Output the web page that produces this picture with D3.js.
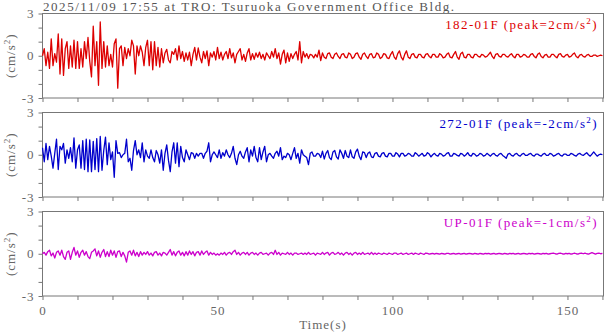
<!DOCTYPE html>
<html>
<head>
<meta charset="utf-8">
<script src="https://cdn.jsdelivr.net/npm/d3@7"></script>
<style>
body { margin: 0; background: #fff; }
text { font-family: "Liberation Serif", "Times New Roman", serif; }
</style>
</head>
<body>
<svg width="605" height="334"></svg>
<script>
const title = "2025/11/09 17:55 at TRO: Tsuruoka Government Office Bldg.";
const channels = ["182-01F", "272-01F", "UP-01F"];
const peaks = ["2", "-2", "-1"];
const xTicks = [0, 50, 100, 150];
const yTicks = [-3, 0, 3];
const dt = 0.5; // seconds between samples

// acceleration (cm/s2), one value per 0.5 s
const acc182 = [
  0.0, 0.5, -0.7, 0.25, -0.9, 1.2, -0.7, 0.15, -0.45, 1.55,
  -1.3, 1.2, -1.4, 0.5, 1.0, -0.9, 0.7, -0.8, 1.1, -0.9,
  1.0, -0.9, 0.5, -0.8, 1.0, -0.2, 1.3, -0.4, -1.5, 2.1,
  -0.7, 1.0, -2.1, 2.4, -0.9, 1.0,
  -0.8, 0.7, -0.7, 0.1, -0.8, 0.85, 1.2, -2.3,
  0.5, 0.7, -0.7, 0.6, -0.2, 0.5, 0.0, 1.1, 0.7, -1.3,
  0.7, 0.0, 0.7, 0.25, -0.7, 0.6, 1.1, -0.7, 1.0, -1.0,
  1.0, -0.7, 0.6, -0.8, 0.5,
  -0.5, 0.2, 0.45, -0.3, -0.5, 0.3, 0.1, 0.5, -0.3, 0.7, -0.2,
  0.3, -0.4, 0.2, -0.3, 0.25, -0.7, 0.1, 0.6, -0.3, 0.55,
  -0.1, -0.5, 0.3, -0.2, 0.35, -0.7, 0.2, -0.1, 0.3, -0.3,
  0.6, -0.2, 0.25, -0.3, 0.1, 0.3, -0.2, 0.5, -0.15, 0.2,
  -0.5, 0.1, 0.3, 0.5, -0.3, 0.1, -0.4, 0.2, 0.5, -0.3,
  0.15, -0.25, 0.2, -0.1, 0.25, -0.2, 0.1, -0.3, 0.2, 0.0,
  -0.2, 0.3, -0.1, 0.5, -0.2, 0.2, -0.6, 0.1, 0.4, -0.5,
  0.2, -0.4, 0.15, -0.2, 0.1, 0.3, -0.3, 1.0, -0.5, 0.3,
  -0.1, 0.15, -0.2, 0.1, 0.05, -0.15, 0.1, -0.1, 0.4, -0.35,
  0.2, -0.1, -0.2, 0.15, 0.2, -0.1, -0.2, 0.1, 0.2, -0.05,
  -0.2, 0.1, 0.15, -0.1, -0.15, 0.2, 0.1, -0.2, -0.1, 0.15,
  0.2, -0.1, -0.25, 0.1, 0.2, -0.05, -0.2, 0.1, 0.15, -0.15,
  -0.1, 0.2, 0.1, -0.2, -0.1, 0.15, 0.1, -0.15, -0.2, 0.1,
  0.3, -0.1, -0.25, 0.15, 0.35, -0.1, -0.3, 0.1, 0.35, -0.1,
  -0.2, 0.1, 0.15, -0.1, -0.15, 0.1, 0.1, -0.1, -0.15, 0.1,
  0.15, -0.05, -0.15, 0.1, 0.1, -0.1, -0.1, 0.15, 0.05, -0.15,
  -0.1, 0.1, 0.2, -0.1, -0.15, 0.1, 0.3, -0.1, -0.25, 0.15,
  0.25, -0.1, -0.15, 0.1, 0.1, -0.1, -0.15, 0.1, 0.1, -0.05,
  -0.1, 0.1, 0.05, -0.1, -0.05, 0.1, 0.25, -0.05, -0.2, 0.1,
  0.15, -0.05, -0.1, 0.1, 0.1, -0.05, -0.1, 0.05, 0.15, -0.05,
  -0.15, 0.1, 0.1, -0.1, -0.05, 0.1, 0.05, -0.1, -0.1, 0.1,
  0.15, -0.05, -0.15, 0.1, 0.2, -0.05, -0.15, 0.05, 0.1, -0.1,
  -0.1, 0.1, 0.1, -0.05, -0.15, 0.1, 0.15, -0.05, -0.1, 0.05,
  0.1, -0.1, -0.05, 0.1, 0.2, -0.05, -0.15, 0.05, 0.1, -0.05,
  -0.1, 0.05, 0.1, -0.05, -0.05, 0.05, 0.05, -0.05, 0.0, 0.05, 0.0
];

const acc272 = [
  0.5, -0.5, 0.8, -0.35, 0.6, -0.1, -0.95, 0.1, 1.1, -1.05,
  0.6, 0.35, 0.8, -0.6, 0.35, -0.25, 0.5, -0.5, 1.2, -0.95,
  0.35, 0.7, -0.95, 1.0, -1.05, 1.1, -1.2, 1.05, -1.2, 0.95,
  -1.05, 1.15, -1.2, 1.3, -1.1, 0.3, 1.25, -0.7, 0.85, -0.35,
  0.2, -1.6, 1.0, 0.1, 0.15, -0.2, 0.0, 0.1, 1.1, -0.5,
  -0.25, -1.1, 0.3, 1.0, 0.0, 0.35, -0.2, 0.85, -0.5, 0.35,
  -0.1, -0.25, 0.35, -0.2, -0.5, 0.3, 0.0, -0.6, 0.35, -1.1,
  0.1, 0.7, -0.4, -1.2, 0.2, 0.85, -0.6, 0.85, -0.85, 0.6,
  -0.2, -0.5, 0.35, 0.0, -0.35, 0.15, 0.1, -0.25, 0.1, -0.1,
  0.1, 0.1, -0.25, 0.1, 0.25, 0.85, -0.5, 0.0, 0.2, 0.0,
  -0.2, 0.35, -0.25, 0.15, -0.1, 0.35, 0.0, -0.2, 0.1, 0.6,
  -0.25, -0.7, 0.0, 0.25, -0.1, -0.25, 0.2, 0.5, -0.5, 0.35,
  -0.1, 0.6, -0.2, -0.5, 0.5, -0.35, 0.2, 0.6, -0.5, 0.0,
  0.1, -0.1, -0.25, 0.1, 0.25, -0.1, 0.5, -0.35, -0.1, -0.2,
  0.1, 0.0, -0.35, 0.1, 0.5, -0.25, 0.1, -0.6, 0.35, 0.0,
  -0.1, -0.2, -0.7, 0.1, 0.2, -0.1, -0.1, 0.1, 0.05, -0.2,
  0.25, -0.3, 0.1, 0.3, -0.2, -0.35, 0.2, 0.3, -0.15,
  -0.3, 0.35, 0.1, -0.25, 0.3, -0.1, -0.2, 0.35, -0.15, -0.25,
  0.2, 0.4, -0.1, -0.35, 0.2, 0.15, -0.2, 0.1, 0.2, -0.15,
  -0.2, 0.1, 0.15, -0.1, -0.15, 0.1, 0.15, -0.1, -0.15, 0.1,
  0.1, -0.1, -0.1, 0.15, 0.05, -0.15, 0.1, 0.1, -0.1, -0.05,
  0.1, 0.05, -0.1, -0.1, 0.15, 0.05, -0.1, 0.0, 0.1, -0.1,
  -0.05, 0.15, 0.05, -0.15, 0.0, 0.1, -0.05, -0.1, 0.1, 0.05,
  -0.1, -0.05, 0.1, 0.15, -0.1, -0.1, 0.1, 0.05, -0.05, -0.1,
  0.1, 0.05, -0.1, 0.0, 0.15, -0.05, -0.1, 0.1, 0.05, -0.1,
  -0.05, 0.1, 0.05, -0.1, -0.05, 0.1, 0.0, -0.1, 0.05, 0.1,
  -0.05, -0.1, 0.05, 0.1, -0.05, -0.15, -0.25, 0.05, 0.1, -0.05,
  -0.1, 0.05, 0.1, -0.05, -0.1, 0.05, 0.1, -0.05, -0.05, 0.05,
  0.1, -0.05, -0.1, 0.05, 0.05, -0.05, -0.1, 0.05, 0.1, -0.05,
  -0.05, 0.1, 0.05, -0.1, -0.05, 0.05, 0.1, -0.05, -0.1, 0.05,
  0.05, -0.05, -0.05, 0.1, 0.05, -0.05, -0.1, 0.05, 0.1, 0.0,
  -0.05, 0.05, 0.15, 0.0, -0.1, 0.05, 0.2, 0.05, -0.1, 0.0, 0.05, 0.0
];

const accUP = [
  0.0, 0.1, -0.1, 0.15, 0.25, -0.15, 0.05, -0.3, 0.1, 0.2,
  -0.1, 0.25, -0.2, -0.4, 0.1, 0.2, -0.4, 0.1, 0.45, -0.1,
  0.2, -0.25, 0.1, 0.25, -0.1, 0.15, -0.2, -0.35, 0.1, 0.2,
  0.35, -0.15, 0.2, -0.25, 0.1, 0.3, -0.2, 0.15, -0.2, 0.25,
  -0.1, 0.2, -0.25, 0.15, 0.2, -0.2, 0.1, -0.15, -0.6, 0.1,
  0.2, -0.1, 0.25, -0.15, 0.1, -0.2, 0.15, -0.1, 0.1, -0.05,
  0.15, -0.1, 0.05, -0.15, 0.1, 0.15, -0.1, 0.05, -0.15, 0.1,
  0.05, -0.1, 0.1, 0.3, -0.1, 0.15, -0.15, 0.1, 0.2, -0.1,
  0.1, -0.15, 0.15, -0.1, 0.2, -0.05, 0.15, -0.15, 0.1, 0.15,
  -0.1, 0.2, -0.05, 0.1, 0.2, -0.1, 0.1, -0.05, 0.05, -0.1,
  0.0, -0.1, 0.05, -0.05, 0.1, -0.1, 0.05, 0.1, -0.05, 0.15,
  0.25, -0.05, 0.1, -0.1, 0.05, 0.1, -0.05, 0.1, -0.1, 0.05,
  0.1, -0.05, 0.05, -0.1, 0.05, 0.1, -0.05, 0.0, 0.05, -0.1,
  0.05, 0.1, -0.05, 0.25, -0.05, 0.1, -0.1, 0.05, 0.0, -0.05,
  0.1, -0.05, 0.05, -0.1, 0.05, 0.05, -0.05, 0.0, 0.05, -0.05,
  0.05, -0.05, 0.1, -0.05, 0.0, 0.05, -0.1, 0.05, 0.0, -0.05,
  0.1, -0.05, 0.05, 0.1, -0.1, 0.05, 0.1, -0.05, 0.0, 0.1,
  -0.05, 0.05, -0.1, 0.05, 0.1, -0.05, 0.05, -0.1, 0.05, 0.1,
  -0.05, 0.05, -0.05, 0.1, -0.05, 0.0, 0.05, -0.05, 0.1, -0.05,
  0.05, -0.05, 0.05, 0.0, -0.05, 0.05, 0.0, -0.05, 0.05, 0.0,
  -0.05, 0.05, 0.05, -0.05, 0.0, 0.05, -0.05, 0.0, 0.05, -0.05,
  0.0, 0.05, -0.05, 0.05, 0.0, -0.05, 0.05, 0.0, -0.05, 0.05,
  0.03, -0.03, 0.0, 0.03, -0.03, 0.03, 0.0, -0.03, 0.03, 0.0,
  -0.03, 0.03, 0.03, -0.03, 0.0, 0.03, -0.03, 0.0, 0.03, -0.03,
  0.0, 0.03, -0.03, 0.0, 0.03, 0.0, -0.03, 0.03, 0.0, -0.03,
  0.03, 0.0, -0.03, 0.03, 0.0, 0.03, -0.03, 0.0, 0.03, -0.03,
  0.0, 0.03, 0.0, -0.03, 0.03, 0.0, -0.03, 0.03, 0.0, 0.03,
  -0.03, 0.0, 0.03, -0.03, 0.0, 0.03, 0.0, -0.03, 0.03, 0.0,
  0.03, -0.03, 0.0, 0.03, 0.0, -0.03, 0.03, 0.0, 0.03, -0.03,
  0.0, 0.03, 0.05, 0.0, -0.03, 0.03, 0.05, 0.0, -0.03, 0.03,
  0.0, 0.03, -0.03, 0.0, 0.05, 0.0, -0.03, 0.03, 0.05, 0.0,
  0.05, 0.0, -0.03, 0.03, 0.08, 0.03, -0.03, 0.03, 0.05, 0.0, 0.03
];

const series = [acc182, acc272, accUP];
const colors = ["#dd0000", "#0000cc", "#cc00cc"];

const svg = d3.select("svg");
const left = 42.5, right = 603.5;
const tops = [13.5, 112.5, 211.5];
const ph = 84.5;
const grey = "#777";

const x = d3.scaleLinear().domain([0, 160.3]).range([left, right]);

svg.append("text")
    .attr("x", 43)
    .attr("y", 11)
    .attr("fill", "#555")
    .attr("font-size", 13)
    .attr("letter-spacing", 1.55)
    .text(title);

series.forEach((vals, k) => {
    const top = tops[k];
    const y = d3.scaleLinear().domain([-3, 3]).range([top + ph, top]);
    const g = svg.append("g");

    const yAxis = g.append("g")
        .attr("transform", `translate(${left},0)`)
        .call(d3.axisLeft(y)
            .tickValues(d3.range(-3, 4))
            .tickSize(4)
            .tickPadding(4)
            .tickFormat(d => yTicks.includes(d) ? d : ""));

    const xAxis = g.append("g")
        .attr("transform", `translate(0,${top + ph})`)
        .call(d3.axisBottom(x)
            .tickValues(d3.range(0, 161, 10))
            .tickSize(4)
            .tickPadding(6)
            .tickFormat(d => (k === 2 && xTicks.includes(d)) ? d : ""));

    [yAxis, xAxis].forEach(a => {
        a.select(".domain").remove();
        a.selectAll("line").attr("stroke", grey);
        a.selectAll("text")
            .attr("fill", "#666")
            .attr("font-size", 13)
            .attr("font-family", "Liberation Serif, serif")
            .attr("letter-spacing", 1);
    });

    g.append("rect")
        .attr("x", left)
        .attr("y", top)
        .attr("width", right - left)
        .attr("height", ph)
        .attr("fill", "none")
        .attr("stroke", grey);

    const line = d3.line()
        .x((d, i) => x(i * dt))
        .y(d => y(d));

    g.append("path")
        .datum(vals)
        .attr("fill", "none")
        .attr("stroke", colors[k])
        .attr("stroke-width", 1.3)
        .attr("stroke-linejoin", "round")
        .attr("d", line);

    const lab = g.append("text")
        .attr("x", 598)
        .attr("y", top + 15)
        .attr("text-anchor", "end")
        .attr("fill", colors[k])
        .attr("font-size", 13)
        .attr("letter-spacing", 1.4);
    lab.append("tspan").text(`${channels[k]} (peak=${peaks[k]}cm/s`);
    lab.append("tspan").attr("font-size", 9).attr("dy", -5).text("2");
    lab.append("tspan").attr("dy", 5).text(")");

    const yl = g.append("text")
        .attr("transform", `translate(15,${top + ph / 2}) rotate(-90)`)
        .attr("text-anchor", "middle")
        .attr("fill", "#666")
        .attr("font-size", 13)
        .attr("letter-spacing", 1);
    yl.append("tspan").text("(cm/s");
    yl.append("tspan").attr("font-size", 9).attr("dy", -5).text("2");
    yl.append("tspan").attr("dy", 5).text(")");
});

svg.append("text")
    .attr("x", (left + right) / 2)
    .attr("y", 329)
    .attr("text-anchor", "middle")
    .attr("fill", "#666")
    .attr("font-size", 13)
    .attr("letter-spacing", 1)
    .text("Time(s)");
</script>
</body>
</html>
